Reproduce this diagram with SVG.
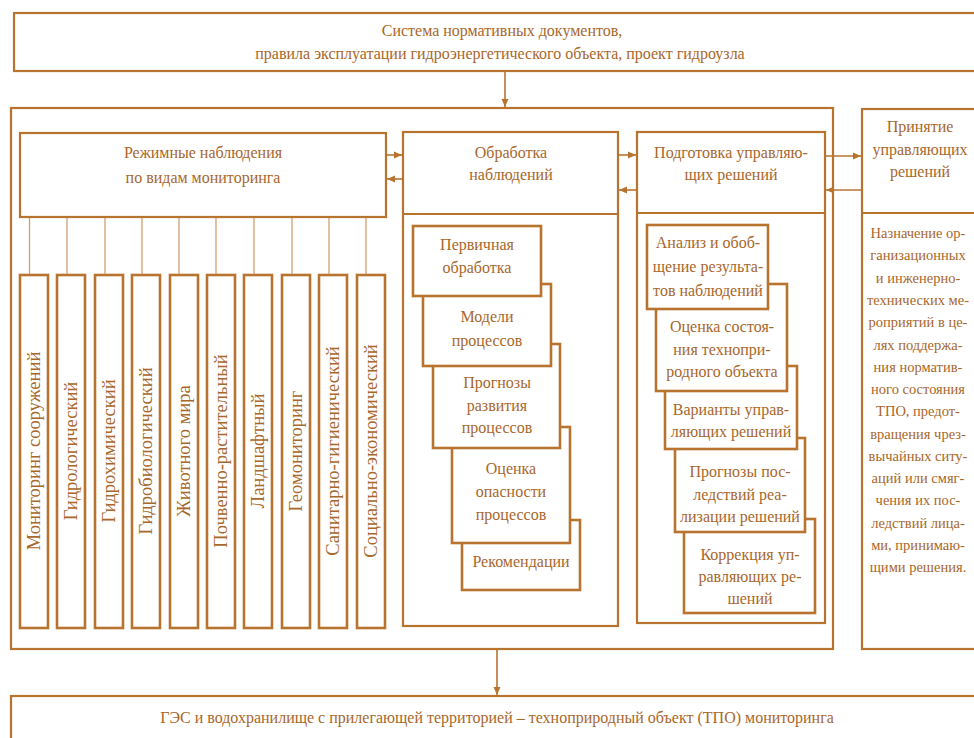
<svg xmlns="http://www.w3.org/2000/svg" width="974" height="738" viewBox="0 0 974 738">
<defs>
<style>
.b{fill:#fff;stroke:#b8742f;stroke-width:2.2}
.bt{fill:#fff;stroke:#b8742f;stroke-width:2.6}
.dl{fill:none;stroke:#b8742f;stroke-width:2}
.t{font-family:"Liberation Serif","Times New Roman",serif;font-size:16px;fill:#a8672b;text-anchor:middle}
.tv{font-family:"Liberation Serif","Times New Roman",serif;font-size:18.5px;fill:#a8672b;text-anchor:middle}
.c{stroke:#b8742f;stroke-width:1.6;fill:none}
.cl{stroke:#cf9f70;stroke-width:1.3;fill:none}
</style>
<marker id="ah" markerUnits="userSpaceOnUse" markerWidth="8" markerHeight="8" refX="8" refY="4" orient="auto">
<path d="M0,0.5 L8,4 L0,7.5 z" fill="#b8742f"/>
</marker>
</defs>
<rect width="974" height="738" fill="#fff"/>

<g id="norms">
<rect class="b" x="14" y="13" width="1000" height="58"/>
<text class="t" x="502" y="36">Система нормативных документов,</text>
<text class="t" x="500" y="59">правила эксплуатации гидроэнергетического объекта, проект гидроузла</text>
</g>

<g id="main">
<rect class="b" x="11" y="108" width="822" height="541"/>
</g>

<g id="regime">
<rect class="b" x="20" y="133" width="366" height="84"/>
<text class="t" x="203" y="158">Режимные наблюдения</text>
<text class="t" x="203" y="183">по видам мониторинга</text>
</g>

<g id="kinds">
<g id="k1"><rect class="bt" x="20" y="275" width="28" height="353"/><text class="tv" transform="translate(34,451) rotate(-90)" dy="0.35em">Мониторинг сооружений</text></g>
<g id="k2"><rect class="bt" x="57" y="275" width="28" height="353"/><text class="tv" transform="translate(71,451) rotate(-90)" dy="0.35em">Гидрологический</text></g>
<g id="k3"><rect class="bt" x="95" y="275" width="28" height="353"/><text class="tv" transform="translate(109,451) rotate(-90)" dy="0.35em">Гидрохимический</text></g>
<g id="k4"><rect class="bt" x="132" y="275" width="28" height="353"/><text class="tv" transform="translate(146,451) rotate(-90)" dy="0.35em">Гидробиологический</text></g>
<g id="k5"><rect class="bt" x="170" y="275" width="28" height="353"/><text class="tv" transform="translate(184,451) rotate(-90)" dy="0.35em">Животного мира</text></g>
<g id="k6"><rect class="bt" x="207" y="275" width="28" height="353"/><text class="tv" transform="translate(221,451) rotate(-90)" dy="0.35em">Почвенно-растительный</text></g>
<g id="k7"><rect class="bt" x="244" y="275" width="28" height="353"/><text class="tv" transform="translate(258,451) rotate(-90)" dy="0.35em">Ландшафтный</text></g>
<g id="k8"><rect class="bt" x="282" y="275" width="28" height="353"/><text class="tv" transform="translate(296,451) rotate(-90)" dy="0.35em">Геомониторинг</text></g>
<g id="k9"><rect class="bt" x="319" y="275" width="28" height="353"/><text class="tv" transform="translate(333,451) rotate(-90)" dy="0.35em">Санитарно-гигиенический</text></g>
<g id="k10"><rect class="bt" x="357" y="275" width="28" height="353"/><text class="tv" transform="translate(371,451) rotate(-90)" dy="0.35em">Социально-экономический</text></g>
</g>

<g id="processing">
<rect class="b" x="403" y="132" width="215" height="494"/>
<line class="dl" x1="403" y1="214" x2="618" y2="214"/>
<text class="t" x="511" y="158">Обработка</text>
<text class="t" x="511" y="180">наблюдений</text>
</g>

<g id="p5"><rect class="bt" x="462" y="520" width="118" height="70"/><text class="t" x="521" y="567">Рекомендации</text></g>
<g id="p4"><rect class="bt" x="452" y="427" width="118" height="116"/><text class="t" x="511" y="474">Оценка</text><text class="t" x="511" y="497">опасности</text><text class="t" x="511" y="520">процессов</text></g>
<g id="p3"><rect class="bt" x="433" y="344" width="127" height="104"/><text class="t" x="497" y="388">Прогнозы</text><text class="t" x="497" y="411">развития</text><text class="t" x="497" y="433">процессов</text></g>
<g id="p2"><rect class="bt" x="423" y="284" width="128" height="82"/><text class="t" x="487" y="322">Модели</text><text class="t" x="487" y="346">процессов</text></g>
<g id="p1"><rect class="bt" x="413" y="226" width="128" height="70"/><text class="t" x="477" y="250">Первичная</text><text class="t" x="477" y="273">обработка</text></g>

<g id="preparation">
<rect class="b" x="637" y="132" width="188" height="491"/>
<line class="dl" x1="637" y1="213" x2="825" y2="213"/>
<text class="t" x="731" y="158">Подготовка управляю-</text>
<text class="t" x="731" y="180">щих решений</text>
</g>

<g id="r5"><rect class="bt" x="684" y="519" width="131" height="94"/><text class="t" x="750" y="560">Коррекция уп-</text><text class="t" x="750" y="582">равляющих ре-</text><text class="t" x="750" y="604">шений</text></g>
<g id="r4"><rect class="bt" x="675" y="438" width="130" height="94"/><text class="t" x="740" y="477">Прогнозы пос-</text><text class="t" x="740" y="500">ледствий реа-</text><text class="t" x="740" y="522">лизации решений</text></g>
<g id="r3"><rect class="bt" x="665" y="366" width="132" height="83"/><text class="t" x="731" y="415">Варианты управ-</text><text class="t" x="731" y="437">ляющих решений</text></g>
<g id="r2"><rect class="bt" x="656" y="284" width="131" height="107"/><text class="t" x="722" y="332">Оценка состоя-</text><text class="t" x="722" y="355">ния  технопри-</text><text class="t" x="722" y="377">родного объекта</text></g>
<g id="r1"><rect class="bt" x="647" y="225" width="121" height="84"/><text class="t" x="708" y="248">Анализ и обоб-</text><text class="t" x="708" y="272">щение результа-</text><text class="t" x="708" y="296">тов наблюдений</text></g>

<g id="decision">
<rect class="b" x="862" y="109" width="200" height="540"/>
<line class="dl" x1="862" y1="213" x2="974" y2="213"/>
<text class="t" x="920" y="132">Принятие</text>
<text class="t" x="920" y="155">управляющих</text>
<text class="t" x="920" y="177">решений</text>
<g class="t" style="font-size:14.5px">
<text x="918" y="238">Назначение ор-</text>
<text x="918" y="260">ганизационных</text>
<text x="918" y="283">и инженерно-</text>
<text x="918" y="305">технических ме-</text>
<text x="918" y="327">роприятий в це-</text>
<text x="918" y="350">лях поддержа-</text>
<text x="918" y="372">ния норматив-</text>
<text x="918" y="394">ного состояния</text>
<text x="918" y="416">ТПО, предот-</text>
<text x="918" y="439">вращения чрез-</text>
<text x="918" y="461">вычайных ситу-</text>
<text x="918" y="483">аций  или смяг-</text>
<text x="918" y="505">чения их пос-</text>
<text x="918" y="528">ледствий лица-</text>
<text x="918" y="550">ми, принимаю-</text>
<text x="918" y="572">щими решения.</text>
</g>
</g>

<g id="object">
<rect class="b" x="11" y="696" width="1000" height="100"/>
<text class="t" x="497" y="723">ГЭС и водохранилище с прилегающей территорией – техноприродный объект (ТПО) мониторинга</text>
</g>

<g id="connectors">
<line class="c" x1="505" y1="72" x2="505" y2="107" marker-end="url(#ah)"/>
<line class="c" x1="497" y1="650" x2="497" y2="695" marker-end="url(#ah)"/>
<line class="c" x1="387" y1="155" x2="402" y2="155" marker-end="url(#ah)"/>
<line class="c" x1="402" y1="179" x2="387" y2="179" marker-end="url(#ah)"/>
<line class="c" x1="619" y1="155" x2="636" y2="155" marker-end="url(#ah)"/>
<line class="c" x1="636" y1="190" x2="619" y2="190" marker-end="url(#ah)"/>
<line class="c" x1="826" y1="156" x2="861" y2="156" marker-end="url(#ah)"/>
<line class="c" x1="861" y1="190" x2="826" y2="190" marker-end="url(#ah)"/>
<line class="cl" x1="29.5" y1="218" x2="29.5" y2="274"/>
<line class="cl" x1="67" y1="218" x2="67" y2="274"/>
<line class="cl" x1="105" y1="218" x2="105" y2="274"/>
<line class="cl" x1="142" y1="218" x2="142" y2="274"/>
<line class="cl" x1="179" y1="218" x2="179" y2="274"/>
<line class="cl" x1="216" y1="218" x2="216" y2="274"/>
<line class="cl" x1="254" y1="218" x2="254" y2="274"/>
<line class="cl" x1="292" y1="218" x2="292" y2="274"/>
<line class="cl" x1="329" y1="218" x2="329" y2="274"/>
<line class="cl" x1="366" y1="218" x2="366" y2="274"/>
</g>
</svg>
